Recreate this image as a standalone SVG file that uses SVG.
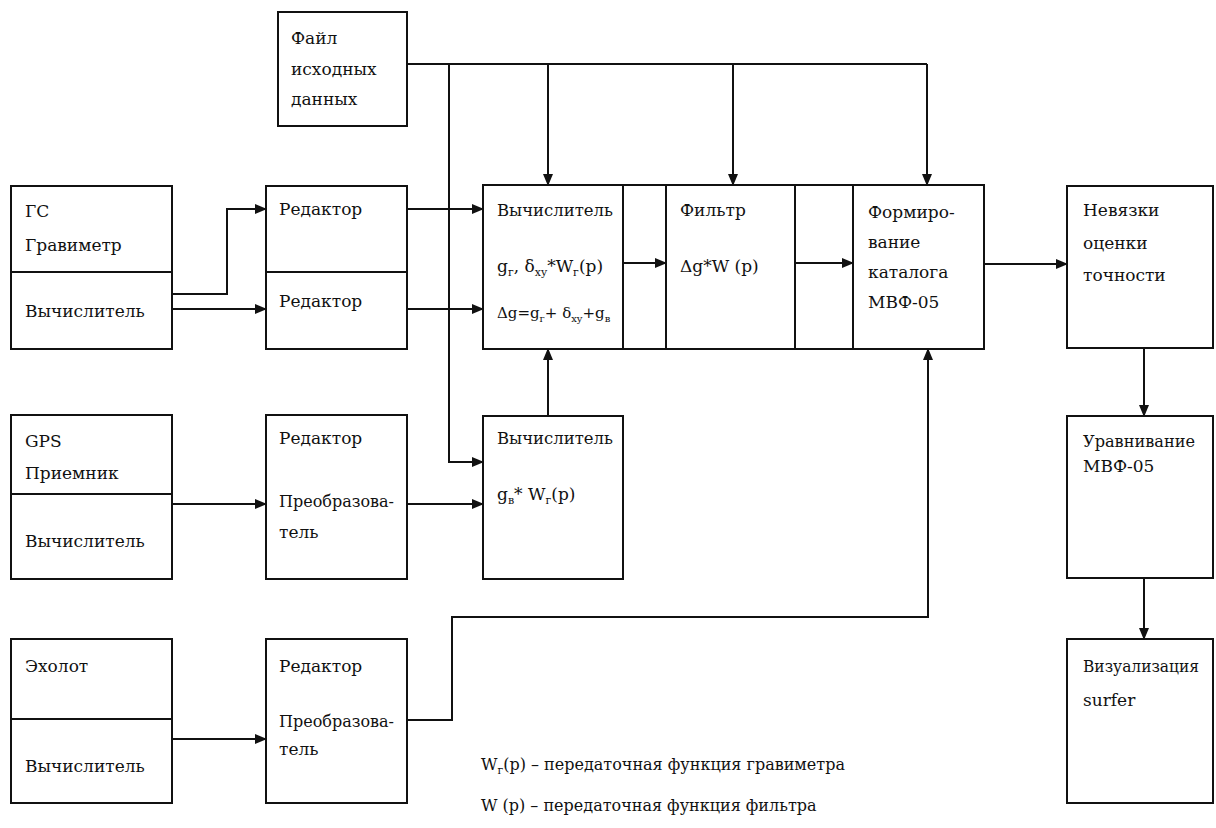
<svg xmlns="http://www.w3.org/2000/svg" width="1216" height="828" viewBox="0 0 1216 828">
<style>
.box{fill:#fff;stroke:#111;stroke-width:2}
.div{stroke:#111;stroke-width:2;fill:none}
.t{font-family:"DejaVu Serif","Liberation Serif",serif;font-size:17px;fill:#111}
.f{font-size:15px}
.lg{font-family:"DejaVu Serif","Liberation Serif",serif;font-size:16px;fill:#111}
.sub{font-size:11px}
.sub2{font-size:10px}
.c{fill:none;stroke:#111;stroke-width:2}
</style>
<defs>
<marker id="ah" markerWidth="12" markerHeight="10" refX="11" refY="5" orient="auto" markerUnits="userSpaceOnUse">
<path d="M0,0 L12,5 L0,10 Z" fill="#111"/>
</marker>
</defs>
<rect width="1216" height="828" fill="#fff"/>

<g id="file">
<rect class="box" x="278" y="12" width="129" height="114"/>
<text class="t" x="291" y="44">Файл</text>
<text class="t" x="291" y="75">исходных</text>
<text class="t" x="291" y="105">данных</text>
</g>

<g id="gs">
<rect class="box" x="11" y="186" width="161" height="163"/>
<line class="div" x1="11" y1="272" x2="172" y2="272"/>
<text class="t" x="25" y="217">ГС</text>
<text class="t" x="25" y="251">Гравиметр</text>
<text class="t" x="25" y="317">Вычислитель</text>
</g>

<g id="editor1">
<rect class="box" x="266" y="186" width="141" height="163"/>
<line class="div" x1="266" y1="272" x2="407" y2="272"/>
<text class="t" x="279" y="215">Редактор</text>
<text class="t" x="279" y="307">Редактор</text>
</g>

<g id="gps">
<rect class="box" x="11" y="415" width="161" height="164"/>
<line class="div" x1="11" y1="494" x2="172" y2="494"/>
<text class="t" x="25" y="447">GPS</text>
<text class="t" x="25" y="479">Приемник</text>
<text class="t" x="25" y="547">Вычислитель</text>
</g>

<g id="editor2">
<rect class="box" x="266" y="415" width="141" height="164"/>
<text class="t" x="279" y="444">Редактор</text>
<text class="t" x="279" y="507" textLength="115" lengthAdjust="spacingAndGlyphs">Преобразова-</text>
<text class="t" x="279" y="538">тель</text>
</g>

<g id="echo">
<rect class="box" x="11" y="639" width="161" height="164"/>
<line class="div" x1="11" y1="719" x2="172" y2="719"/>
<text class="t" x="25" y="672">Эхолот</text>
<text class="t" x="25" y="772">Вычислитель</text>
</g>

<g id="editor3">
<rect class="box" x="266" y="639" width="141" height="164"/>
<text class="t" x="279" y="672">Редактор</text>
<text class="t" x="279" y="727" textLength="115" lengthAdjust="spacingAndGlyphs">Преобразова-</text>
<text class="t" x="279" y="755">тель</text>
</g>

<g id="central">
<rect class="box" x="483" y="185" width="501" height="164"/>
<line class="div" x1="623" y1="185" x2="623" y2="349"/>
<line class="div" x1="666" y1="185" x2="666" y2="349"/>
<line class="div" x1="795" y1="185" x2="795" y2="349"/>
<line class="div" x1="853" y1="185" x2="853" y2="349"/>
<text class="t" x="497" y="216" textLength="116" lengthAdjust="spacingAndGlyphs">Вычислитель</text>
<text class="t" x="497" y="272">g<tspan class="sub" dy="4">г</tspan><tspan dy="-4">, δ</tspan><tspan class="sub" dy="4">xy</tspan><tspan dy="-4">*W</tspan><tspan class="sub" dy="4">г</tspan><tspan dy="-4">(p)</tspan></text>
<text class="t f" x="497" y="318">Δg=g<tspan class="sub2" dy="4">г</tspan><tspan dy="-4">+ δ</tspan><tspan class="sub2" dy="4">xy</tspan><tspan dy="-4">+g</tspan><tspan class="sub2" dy="4">в</tspan></text>
<text class="t" x="680" y="216">Фильтр</text>
<text class="t" x="680" y="272">Δg*W (p)</text>
<text class="t" x="868" y="218">Формиро-</text>
<text class="t" x="868" y="248">вание</text>
<text class="t" x="868" y="278">каталога</text>
<text class="t" x="868" y="308">МВФ-05</text>
</g>

<g id="calc2">
<rect class="box" x="483" y="416" width="140" height="163"/>
<text class="t" x="497" y="444" textLength="116" lengthAdjust="spacingAndGlyphs">Вычислитель</text>
<text class="t" x="497" y="500">g<tspan class="sub" dy="4">в</tspan><tspan dy="-4">* W</tspan><tspan class="sub" dy="4">г</tspan><tspan dy="-4">(p)</tspan></text>
</g>

<g id="nevyazki">
<rect class="box" x="1067" y="186" width="146" height="162"/>
<text class="t" x="1083" y="216">Невязки</text>
<text class="t" x="1083" y="249">оценки</text>
<text class="t" x="1083" y="281">точности</text>
</g>

<g id="uravn">
<rect class="box" x="1067" y="416" width="146" height="162"/>
<text class="t" x="1083" y="447" textLength="112" lengthAdjust="spacingAndGlyphs">Уравнивание</text>
<text class="t" x="1083" y="472">МВФ-05</text>
</g>

<g id="vis">
<rect class="box" x="1067" y="639" width="146" height="164"/>
<text class="t" x="1083" y="672" textLength="116" lengthAdjust="spacingAndGlyphs">Визуализация</text>
<text class="t" x="1083" y="706">surfer</text>
</g>

<g id="legend">
<text class="lg" x="481" y="770">W<tspan class="sub" dy="4">г</tspan><tspan dy="-4">(p) – передаточная функция гравиметра</tspan></text>
<text class="lg" x="481" y="811">W (p) – передаточная функция фильтра</text>
</g>

<g id="connectors">
<path class="c" d="M172,294 H227 V209 H266" marker-end="url(#ah)"/>
<path class="c" d="M172,309 H266" marker-end="url(#ah)"/>
<path class="c" d="M407,209 H483" marker-end="url(#ah)"/>
<path class="c" d="M407,309 H483" marker-end="url(#ah)"/>
<path class="c" d="M407,64 H927"/>
<path class="c" d="M449,64 V462 H483" marker-end="url(#ah)"/>
<path class="c" d="M548,64 V185" marker-end="url(#ah)"/>
<path class="c" d="M733,64 V185" marker-end="url(#ah)"/>
<path class="c" d="M927,64 V185" marker-end="url(#ah)"/>
<path class="c" d="M623,263 H666" marker-end="url(#ah)"/>
<path class="c" d="M795,263 H853" marker-end="url(#ah)"/>
<path class="c" d="M984,264 H1067" marker-end="url(#ah)"/>
<path class="c" d="M172,504 H266" marker-end="url(#ah)"/>
<path class="c" d="M407,504 H483" marker-end="url(#ah)"/>
<path class="c" d="M548,416 V349" marker-end="url(#ah)"/>
<path class="c" d="M172,739 H266" marker-end="url(#ah)"/>
<path class="c" d="M407,720 H452 V617 H928 V349" marker-end="url(#ah)"/>
<path class="c" d="M1144,348 V416" marker-end="url(#ah)"/>
<path class="c" d="M1144,578 V639" marker-end="url(#ah)"/>
</g>
</svg>
